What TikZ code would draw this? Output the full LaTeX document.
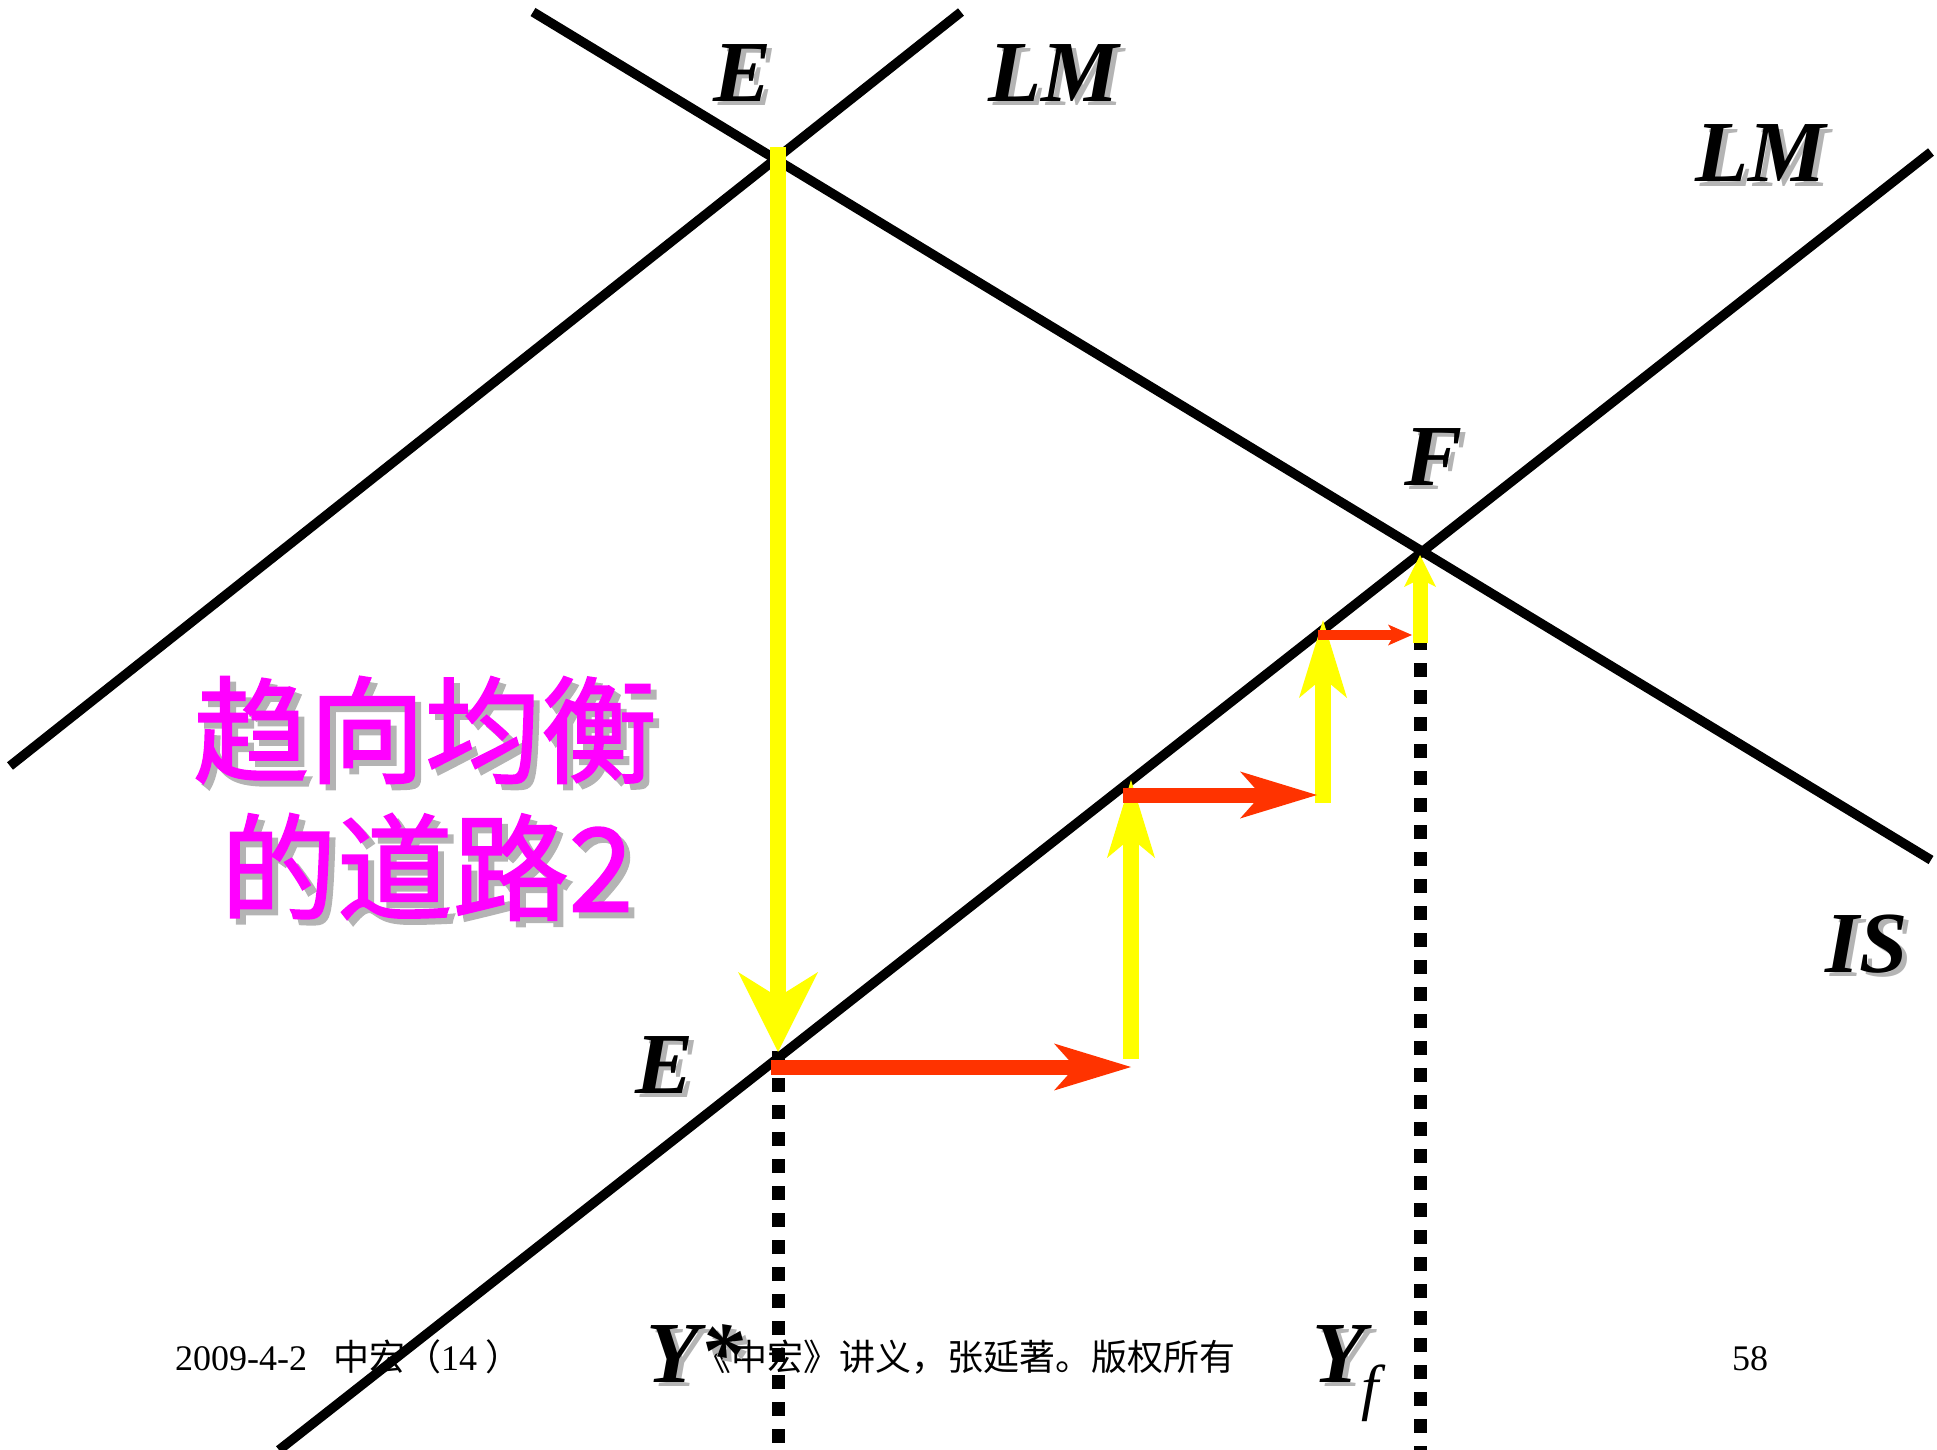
\documentclass[tikz,border=0pt]{standalone}
\usepackage{fontspec}
\setmainfont{Liberation Serif}
\newfontfamily\cjk{Noto Sans CJK SC}
\newfontfamily\cjkb{Noto Sans CJK SC}[FakeBold=1.6]
\usetikzlibrary{arrows.meta}
\definecolor{ylw}{HTML}{FFFF00}
\definecolor{rd}{HTML}{FF3300}
\definecolor{mag}{HTML}{FF00FF}
\definecolor{shd}{HTML}{B4B4B4}
\begin{document}
\begin{tikzpicture}[x=1pt,y=-1pt,
  curve/.style={line width=9.5pt, draw=black},
  guide/.style={line width=13pt, draw=black, dash pattern=on 13.5pt off 13.5pt},
  bigy/.style={draw=ylw, line width=16pt, -{Stealth[line width=0pt, length=80pt, width=80pt, inset=25pt]}},
  ya/.style={draw=ylw, line width=16pt, -{Stealth[line width=0pt, length=78pt, width=48pt, inset=20pt]}},
  ra/.style={draw=rd, line width=15pt, -{Stealth[line width=0pt, length=77pt, width=47pt, inset=21pt]}},
  smy/.style={draw=ylw, line width=15pt, -{Stealth[line width=0pt, length=32pt, width=32pt, inset=8pt]}},
  smr/.style={draw=rd, line width=10.5pt, -{Stealth[line width=0pt, length=24pt, width=21pt, inset=6pt]}},
  lbl/.style={font=\fontsize{87pt}{90pt}\selectfont\bfseries\itshape, inner sep=0pt, anchor=base, text=black},
  lblsh/.style={lbl, text=shd},
  ttl/.style={font=\cjkb\fontsize{116pt}{120pt}\selectfont, inner sep=0pt, anchor=center, text=mag},
  ttlsh/.style={ttl, text=shd},
  foot/.style={font=\fontsize{36pt}{40pt}\selectfont, inner sep=0pt, anchor=base west, text=black}
]
\useasboundingbox (0,0) rectangle (1937,1450);
% curve end points
\coordinate (lm1a) at (10,766);
\coordinate (lm1b) at (961,12);
\coordinate (isa) at (533,12);
\coordinate (isb) at (1931,860);
\coordinate (lm2a) at (279,1450);
\coordinate (lm2b) at (1931,152);
% arrow points
\coordinate (Etop) at (778,147);
\coordinate (Ebot) at (778,1052);
\coordinate (r1s) at (771,1067);
\coordinate (r1e) at (1131,1067);
\coordinate (y2s) at (1131,1059);
\coordinate (y2e) at (1131,780);
\coordinate (r2s) at (1123,795);
\coordinate (r2e) at (1317,795);
\coordinate (y3s) at (1323,803);
\coordinate (y3e) at (1323,620);
\coordinate (r3s) at (1318,635);
\coordinate (r3e) at (1412,635);
\coordinate (y4s) at (1420,643);
\coordinate (y4e) at (1420,555);
\coordinate (d1s) at (778,1051);
\coordinate (d1e) at (778,1450);
\coordinate (d2s) at (1420,636);
\coordinate (d2e) at (1420,1450);
% curves
\draw[curve] (lm1a) -- (lm1b);
\draw[curve] (isa) -- (isb);
\draw[curve] (lm2a) -- (lm2b);
% guides
\draw[guide] (d1s) -- (d1e);
\draw[guide] (d2s) -- (d2e);
% arrows
\draw[bigy] (Etop) -- (Ebot);
\draw[ya] (y2s) -- (y2e);
\draw[ya] (y3s) -- (y3e);
\draw[smy] (y4s) -- (y4e);
\draw[ra] (r1s) -- (r1e);
\draw[ra] (r2s) -- (r2e);
\draw[smr] (r3s) -- (r3e);
% labels
\node[lblsh] (Es1) at (748,106) {E};
\node[lbl] (E1) at (743,102) {E};
\node[lblsh] (LMs1) at (1059,106) {LM};
\node[lbl] (LM1) at (1054,102) {LM};
\node[lblsh] (LMs2) at (1766,186) {LM};
\node[lbl] (LM2) at (1761,182) {LM};
\node[lblsh] (Fs) at (1438,489) {F};
\node[lbl] (F) at (1433,485) {F};
\node[lblsh] (Es2) at (670,1097) {E};
\node[lbl] (E2) at (665,1093) {E};
\node[lblsh] (ISs) at (1872,976) {IS};
\node[lbl] (IS) at (1867,972) {IS};
% title
\node[ttlsh] (T1s) at (431,736) {趋向均衡};
\node[ttl] (T1) at (425,730) {趋向均衡};
\node[ttlsh] (T2s) at (433,873) {的道路2};
\node[ttl] (T2) at (427,867) {的道路2};
% footer
\node[foot] (fl) at (175,1370) {2009-4-2\hspace{26pt}{\cjk 中宏（}14\hspace{8pt}{\cjk ）}};
\node[foot] (fc) at (695,1370) {\cjk 《中宏》讲义，张延著。版权所有};
\node[foot] (fr) at (1732,1370) {58};
% Y labels
\node[lblsh, anchor=base west] (Ys1) at (651,1386) {Y*};
\node[lbl, anchor=base west] (Y1) at (646,1382) {Y*};
\node[lblsh, anchor=base west] (Ys2) at (1317,1386) {Y};
\node[lbl, anchor=base west] (Y2) at (1312,1382) {Y};
\node[font=\fontsize{62pt}{64pt}\selectfont\itshape, inner sep=0pt, anchor=base west] (fsub) at (1361,1408) {f};
\end{tikzpicture}
\end{document}
